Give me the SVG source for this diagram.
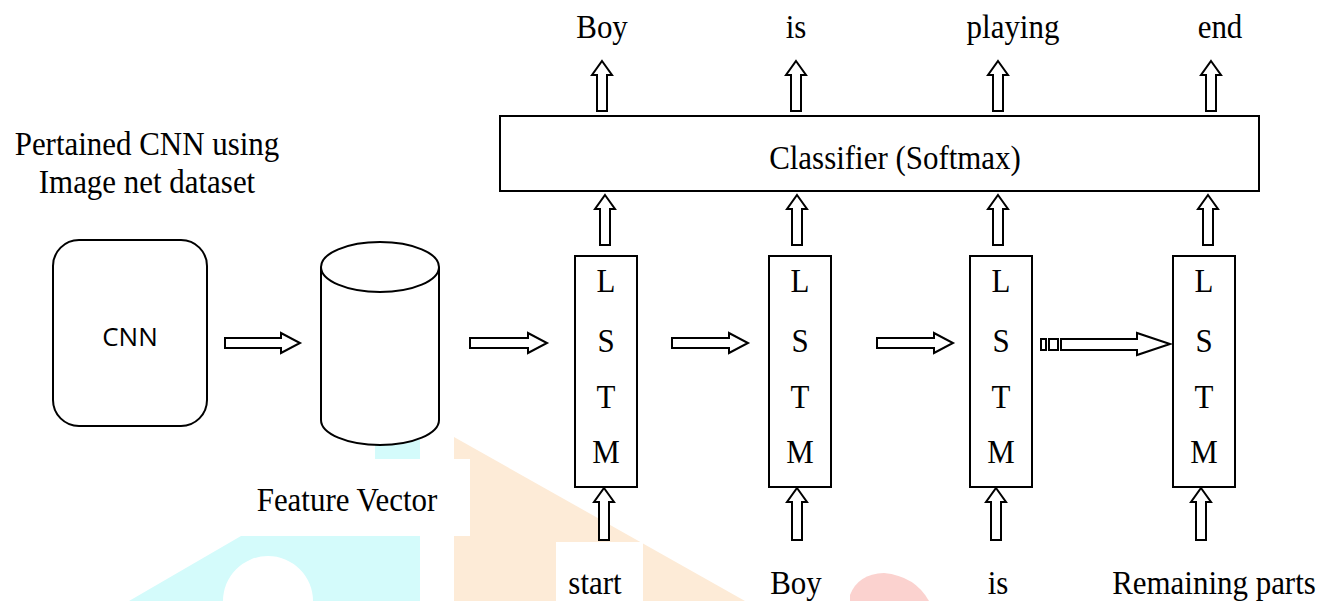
<svg xmlns="http://www.w3.org/2000/svg" width="1328" height="601" viewBox="0 0 1328 601">
  <style>
    .bg { fill: #ffffff; }
    .box { fill: #ffffff; stroke: #000000; stroke-width: 2; }
    .arrow { fill: #ffffff; stroke: #000000; stroke-width: 2; stroke-linejoin: miter; }
    .t { font-family: "Liberation Serif", "Times New Roman", serif; font-size: 34px; fill: #000000; text-anchor: middle;
         transform-box: fill-box; transform-origin: center; transform: scaleX(0.91); }
    .sans { font-family: "Open Sans", "Liberation Sans", Arial, sans-serif; font-size: 26px; fill: #000000; text-anchor: middle; }
    .wm-cyan { fill: #d4fbfb; }
    .wm-orange { fill: #fdebd7; }
    .wm-red { fill: #fbd2cf; }
  </style>
  <defs>
    <!-- hollow upward block arrows, tip at (0,0) -->
    <path id="upShort" d="M 0 0 L 10 14 L 5 14 L 5 50 L -5 50 L -5 14 L -10 14 Z"/>
    <path id="upLong" d="M 0 0 L 10 14 L 5 14 L 5 52 L -5 52 L -5 14 L -10 14 Z"/>
  </defs>

  <rect class="bg" x="0" y="0" width="1328" height="601"/>

  <!-- faint background emblem -->
  <g id="emblem">
    <rect class="wm-cyan" x="375" y="440" width="45" height="19"/>
    <path class="wm-cyan" d="M 129 601 L 241 536 L 420 536 L 420 601 L 313 601 A 45 45 0 0 0 223 601 Z"/>
    <path class="wm-orange" d="M 454 437 L 745 601 L 454 601 Z"/>
    <rect class="bg" x="454" y="459" width="16" height="77"/>
    <rect class="bg" x="556" y="542" width="87" height="59"/>
    <path class="wm-red" d="M 850 601 L 850 595 Q 858 574 884 573 Q 915 576 929 601 Z"/>
  </g>

  <g id="caption-cnn">
    <text class="t" x="147" y="155">Pertained CNN using</text>
    <text class="t" x="147" y="193">Image net dataset</text>
  </g>

  <g id="cnn">
    <rect class="box" x="53" y="240" width="154" height="186" rx="26" ry="26"/>
    <text class="sans" x="130" y="346">CNN</text>
  </g>

  <g id="feature-vector">
    <path class="box" d="M 321 267 L 321 420 A 59 25 0 0 0 439 420 L 439 267"/>
    <ellipse class="box" cx="380" cy="267" rx="59" ry="25"/>
    <text class="t" x="347" y="511">Feature Vector</text>
  </g>

  <g id="classifier">
    <rect class="box" x="500" y="116" width="759" height="75"/>
    <text class="t" x="895" y="169">Classifier (Softmax)</text>
  </g>

  <g id="lstm-1">
    <rect class="box" x="575" y="256" width="62" height="231"/>
    <text class="t" x="606" y="292">L</text>
    <text class="t" x="606" y="352">S</text>
    <text class="t" x="606" y="408">T</text>
    <text class="t" x="606" y="463">M</text>
  </g>
  <g id="lstm-2">
    <rect class="box" x="769" y="256" width="62" height="231"/>
    <text class="t" x="800" y="292">L</text>
    <text class="t" x="800" y="352">S</text>
    <text class="t" x="800" y="408">T</text>
    <text class="t" x="800" y="463">M</text>
  </g>
  <g id="lstm-3">
    <rect class="box" x="970" y="256" width="62" height="231"/>
    <text class="t" x="1001" y="292">L</text>
    <text class="t" x="1001" y="352">S</text>
    <text class="t" x="1001" y="408">T</text>
    <text class="t" x="1001" y="463">M</text>
  </g>
  <g id="lstm-4">
    <rect class="box" x="1173" y="256" width="62" height="231"/>
    <text class="t" x="1204" y="292">L</text>
    <text class="t" x="1204" y="352">S</text>
    <text class="t" x="1204" y="408">T</text>
    <text class="t" x="1204" y="463">M</text>
  </g>

  <g id="outputs">
    <text class="t" x="602" y="38">Boy</text>
    <text class="t" x="796" y="38">is</text>
    <text class="t" x="1013" y="38">playing</text>
    <text class="t" x="1220" y="38">end</text>
  </g>

  <g id="inputs">
    <text class="t" x="595" y="594">start</text>
    <text class="t" x="796" y="594">Boy</text>
    <text class="t" x="998" y="594">is</text>
    <text class="t" x="1214" y="594">Remaining parts</text>
  </g>

  <g id="connectors">
    <!-- horizontal flow -->
    <path class="arrow" d="M 225 338 H 281 V 333 L 300 343 L 281 353 V 348 H 225 Z"/>
    <path class="arrow" d="M 470 338 H 528 V 333 L 547 343 L 528 353 V 348 H 470 Z"/>
    <path class="arrow" d="M 672 338 H 729 V 333 L 748 343 L 729 353 V 348 H 672 Z"/>
    <path class="arrow" d="M 877 338 H 934 V 333 L 953 343 L 934 353 V 348 H 877 Z"/>
    <rect class="arrow" x="1041" y="339" width="5" height="11"/>
    <rect class="arrow" x="1049" y="339" width="9" height="11"/>
    <path class="arrow" d="M 1061 339 H 1137 V 333 L 1170 344 L 1137 355 V 350 H 1061 Z"/>

    <!-- classifier to words -->
    <use href="#upShort" class="arrow" x="602" y="61"/>
    <use href="#upShort" class="arrow" x="796" y="61"/>
    <use href="#upShort" class="arrow" x="998" y="61"/>
    <use href="#upShort" class="arrow" x="1211" y="61"/>

    <!-- LSTM to classifier -->
    <use href="#upShort" class="arrow" x="605" y="195"/>
    <use href="#upShort" class="arrow" x="797" y="195"/>
    <use href="#upShort" class="arrow" x="998" y="195"/>
    <use href="#upShort" class="arrow" x="1208" y="195"/>

    <!-- inputs to LSTM -->
    <use href="#upLong" class="arrow" x="604" y="488"/>
    <use href="#upLong" class="arrow" x="797" y="488"/>
    <use href="#upLong" class="arrow" x="996" y="488"/>
    <use href="#upLong" class="arrow" x="1201" y="488"/>
  </g>
</svg>
